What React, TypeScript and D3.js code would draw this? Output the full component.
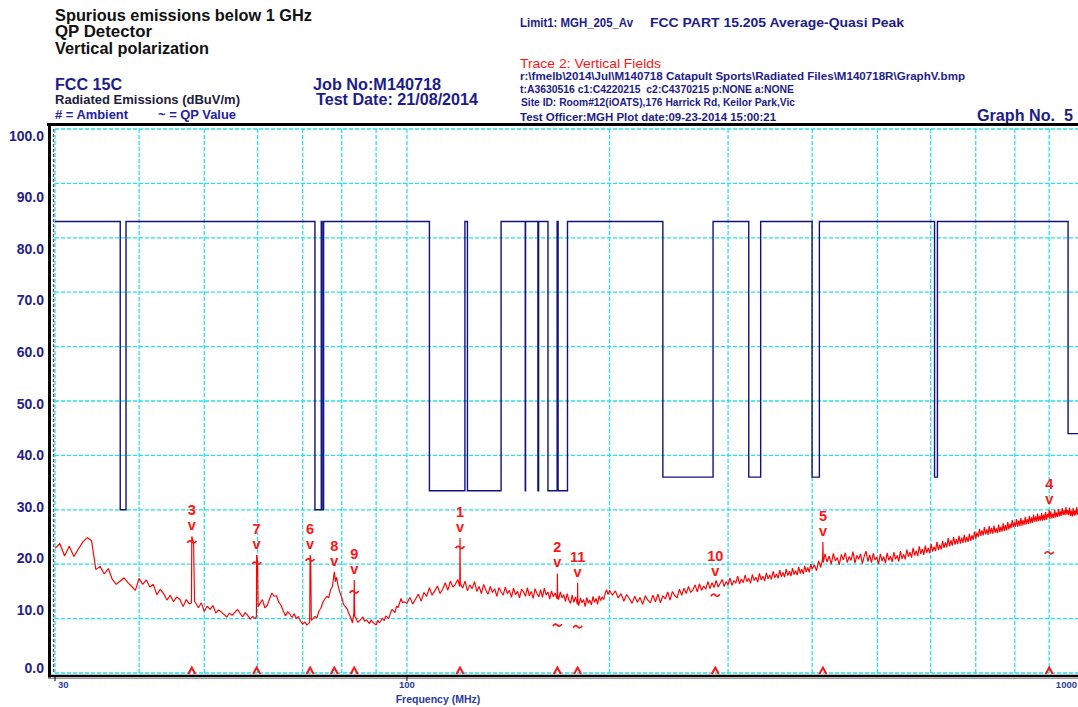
import * as d3 from "d3";

const FONT = "'Liberation Sans', Arial, Helvetica, sans-serif";
const NAVY = "#1c1c8a";
const RED = "#ff1414";
const CYAN = "#22e4f0";

// axes
const yGridDb = [0, 10, 20, 30, 40, 50, 60, 70, 80, 90, 100];
const yTickLabels = ["0.0", "10.0", "20.0", "30.0", "40.0", "50.0", "60.0", "70.0", "80.0", "90.0", "100.0"];
const xGridMHz = [30, 40, 50, 60, 70, 80, 90, 100, 200, 300, 400, 500, 600, 700, 800, 900, 1000];
const xTickMHz = [30, 100, 1000];
const xTickLabels = ["30", "100", "1000"];

// limit line: FCC 15.205 restricted bands
const openLimitDb = 83;
const bandStartMHz = [37.5, 73, 74.8, 108, 123, 149.9, 156.52475, 156.7, 162.0125, 167.72, 240, 322, 399.9, 608, 960];
const bandEndMHz = [38.25, 74.6, 75.2, 121.94, 138, 150.05, 156.52525, 156.9, 167.17, 173.2, 285, 335.4, 410, 614, 1240];
const bandLimitDb = [30, 30, 30, 33.5, 33.5, 33.5, 33.5, 33.5, 33.5, 33.5, 36, 36, 36, 36, 44];

// trace 2: vertical fields [MHz, dBuV/m]
const trace: [number, number][] = [
  [30, 22.9], [30.5, 23.8], [31, 21.5], [31.5, 23.3], [32, 21.4], [32.5, 22.8], [33, 24.1], [33.5, 24.9],
  [34, 24.3], [34.5, 19.0], [35, 19.6], [35.5, 18.2], [36, 19.2], [36.5, 17.2], [37, 16.3], [37.5, 16.9],
  [38, 17.5], [38.5, 16.6], [39, 15.9], [39.5, 15.2], [40, 17.4], [40.5, 16.3], [41, 17.1], [41.5, 15.8],
  [42, 16.3], [42.5, 14.4], [43, 15.4], [43.5, 14.6], [44, 13.4], [44.5, 14.3], [45, 13.1], [45.5, 14.0],
  [46, 13.5], [46.5, 12.2], [47, 13.5], [47.5, 12.7], [47.85, 12.9], [47.9, 25.1], [48.2, 24.0], [48.35, 13.2],
  [48.7, 12.6], [49, 12.0], [49.5, 12.9], [50, 11.3], [50.5, 12.3], [51, 11.7], [51.5, 12.4], [52, 11.0],
  [52.5, 11.6], [53, 11.2], [54, 10.3], [54.5, 11.0], [55, 10.6], [56, 11.7], [57, 10.3], [57.5, 11.1],
  [58, 10.6], [58.5, 9.9], [59, 10.4], [59.5, 10.0], [59.75, 10.3], [59.8, 21.7], [60.0, 20.4], [60.1, 12.2],
  [60.5, 12.8], [61, 13.5], [61.5, 12.0], [62, 12.4], [62.5, 13.6], [63, 14.7], [63.5, 14.1], [64, 14.2],
  [64.5, 13.0], [65, 12.5], [65.5, 11.4], [66, 10.5], [66.5, 11.3], [67, 10.8], [67.5, 10.2], [68, 10.9],
  [68.5, 10.0], [69, 10.4], [69.5, 9.5], [70, 9.0], [70.5, 9.4], [71, 8.8], [71.7, 9.3], [71.8, 21.7],
  [71.95, 21.0], [72.1, 9.7], [72.5, 10.0], [73, 10.4], [73.5, 10.1], [74, 11.4], [74.5, 11.9], [75, 13.0],
  [75.5, 13.6], [76, 14.1], [76.5, 13.8], [77, 15.3], [77.5, 15.9], [78, 18.6], [78.3, 16.8], [78.6, 17.6],
  [79, 16.1], [79.5, 14.8], [80, 13.9], [80.5, 12.6], [81, 12.2], [81.5, 11.8], [82, 10.9], [82.5, 10.2],
  [83, 9.2], [83.4, 11.0], [83.5, 17.1], [83.65, 10.4], [84, 10.1], [84.5, 9.3], [85, 9.6], [86, 10.3],
  [86.5, 9.5], [87, 9.8], [88, 9.1], [88.5, 9.8], [89, 9.3], [90, 8.8], [90.5, 9.7], [91, 9.2],
  [92, 10.1], [92.5, 9.6], [93, 10.5], [94, 10.0], [94.5, 11.0], [95, 11.7], [96, 11.1], [96.5, 12.3],
  [97, 12.0], [98, 13.7], [98.5, 12.9], [99, 13.1], [100, 12.8],
  [101, 13.9], [102, 12.7], [103, 13.6], [104, 14.5], [105, 13.2], [106, 14.8], [107, 14.1], [108, 15.7],
  [109, 14.3], [110, 15.1], [111, 16.0], [112, 14.6], [113, 15.4], [114, 16.6], [115, 15.2], [116, 16.9],
  [117, 15.8], [118, 16.3], [119, 17.2], [119.8, 15.9], [119.9, 24.8], [120.05, 16.4], [121, 15.6], [122, 16.9],
  [123, 15.1], [124, 16.2], [125, 15.5], [126, 16.8], [127, 15.0], [128, 15.9], [129, 14.6], [130, 16.3],
  [131, 15.2], [132, 14.5], [133, 15.9], [134, 14.8], [135, 15.5], [136, 14.1], [137, 15.7], [138, 14.9],
  [139, 14.3], [140, 15.8], [141, 14.6], [142, 15.2], [143, 13.9], [144, 15.6], [145, 14.4], [146, 15.0],
  [147, 13.8], [148, 15.4], [149, 14.9], [150, 14.1], [151, 15.7], [152, 14.2], [153, 15.0], [154, 13.7],
  [155, 15.5], [156, 14.6], [157, 14.0], [158, 15.3], [159, 13.9], [160, 15.6], [161, 14.3], [162, 14.9],
  [163, 13.6], [164, 15.1], [165, 14.0], [166, 14.7], [167.2, 13.6], [167.3, 18.3], [167.45, 14.6], [168, 13.5],
  [169, 14.9], [170, 13.8], [171, 14.4], [172, 13.1], [173, 14.6], [174, 13.4], [175, 12.8], [176, 14.3],
  [177, 13.0], [178, 14.0], [179.2, 12.6], [179.3, 16.6], [179.45, 13.2], [180, 12.4], [181, 13.8], [182, 12.9],
  [183, 13.5], [184, 12.2], [185, 13.9], [186, 12.8], [187, 13.4], [188, 12.5], [189, 14.1], [190, 13.0],
  [191, 13.7], [192, 12.6], [193, 14.2], [194, 13.3], [195, 14.0], [196, 13.5], [197, 14.6], [198, 15.3],
  [199, 14.4], [200, 15.2],
  [202, 14.3], [204, 15.1], [206, 13.8], [208, 14.6], [210, 13.2], [212, 14.4], [214, 13.7], [216, 12.8],
  [218, 14.1], [220, 13.0], [222, 13.9], [224, 12.6], [226, 14.2], [228, 13.4], [230, 12.9], [232, 14.3],
  [234, 13.1], [236, 14.5], [238, 12.9], [240, 14.2], [242, 13.6], [244, 14.9], [246, 13.4], [248, 15.0],
  [250, 14.2], [252, 13.8], [254, 15.4], [256, 14.3], [258, 15.6], [260, 14.6], [262, 15.9], [264, 14.8],
  [266, 15.3], [268, 16.2], [270, 14.9], [272, 16.4], [274, 15.2], [276, 16.0], [278, 15.4], [280, 16.8],
  [282, 15.5], [284, 16.6], [286, 15.7], [288, 17.0], [290, 15.8], [292, 16.5], [294, 17.2], [296, 15.9],
  [298, 16.8], [300, 16.2], [302, 17.5], [304, 16.1], [306, 17.0], [308, 16.5], [310, 17.8], [312, 16.4],
  [314, 17.3], [316, 16.6], [318, 18.0], [320, 16.8], [322, 17.4], [324, 16.5], [326, 18.1], [328, 17.0],
  [330, 17.6], [332, 16.7], [334, 18.3], [336, 17.1], [338, 17.8], [340, 16.9], [342, 18.4], [344, 17.3],
  [346, 18.0], [348, 17.2], [350, 18.7], [352, 17.5], [354, 18.2], [356, 17.4], [358, 18.9], [360, 17.7],
  [362, 18.5], [364, 17.6], [366, 19.1], [368, 17.9], [370, 18.7], [372, 17.8], [374, 19.3], [376, 18.1],
  [378, 18.8], [380, 18.0], [382, 19.5], [384, 18.3], [386, 19.1], [388, 18.2], [390, 19.7], [392, 18.6],
  [394, 19.4], [396, 18.5], [398, 20.0], [400, 19.1],
  [403, 19.9], [406, 18.8], [409, 20.6], [412, 19.4], [414.5, 21.0], [415, 24.1], [415.5, 20.3], [418, 21.9],
  [421, 20.4], [424, 21.5], [427, 20.0], [430, 22.0], [433, 20.6], [436, 21.2], [439, 19.9], [442, 21.8],
  [445, 20.8], [448, 22.1], [451, 20.3], [454, 21.4], [457, 20.7], [460, 22.3], [463, 20.2], [466, 21.6],
  [469, 20.9], [472, 21.9], [475, 20.1], [478, 21.5], [481, 22.4], [484, 20.5], [487, 21.7], [490, 20.3],
  [493, 22.0], [496, 20.8], [499, 21.3], [502, 20.0], [505, 21.9], [508, 20.6], [511, 21.4], [514, 20.2],
  [517, 22.1], [520, 20.7], [523, 21.5], [526, 20.4], [529, 22.2], [532, 20.9], [535, 21.6], [538, 20.5],
  [541, 22.4], [544, 21.0], [547, 21.8], [550, 20.9], [553, 22.7], [556, 21.4], [559, 22.2], [562, 21.2],
  [565, 23.0], [568, 21.6], [571, 22.5], [574, 21.5], [577, 23.3], [580, 21.9], [583, 22.8], [586, 21.7],
  [589, 23.4], [592, 22.1], [595, 23.0], [598, 22.0], [601, 23.7], [604, 22.3], [607, 23.2], [610, 22.4],
  [613, 24.1], [616, 22.6], [619, 23.6], [622, 22.7], [625, 24.3], [628, 23.0], [631, 24.0], [634, 23.1],
  [637, 24.8], [640, 23.3], [643, 24.4], [646, 23.4], [649, 25.0], [652, 23.6], [655, 24.6], [658, 23.7],
  [661, 25.2], [664, 23.8], [667, 24.9], [670, 23.9], [673, 25.4], [676, 24.0], [679, 25.0], [682, 24.1],
  [685, 25.6], [688, 24.3], [691, 25.3], [694, 24.5], [697, 26.0], [700, 24.7], [703, 25.8], [706, 25.0],
  [709, 26.5], [712, 25.2], [715, 26.2], [718, 25.3], [721, 26.8], [724, 25.5], [727, 26.4], [730, 25.4],
  [733, 27.0], [736, 25.6], [739, 26.7], [742, 25.6], [745, 27.1], [748, 25.8], [751, 26.6], [754, 25.7],
  [757, 27.3], [760, 25.9], [763, 26.9], [766, 26.0], [769, 27.5], [772, 26.1], [775, 27.2], [778, 26.2],
  [781, 27.8], [784, 26.4], [787, 27.4], [790, 26.6], [793, 28.1], [796, 26.8], [799, 27.7], [802, 26.9],
  [805, 28.3], [808, 26.9], [811, 28.0], [814, 27.0], [817, 28.5], [820, 27.1], [823, 28.1], [826, 27.2],
  [829, 28.7], [832, 27.3], [835, 28.3], [838, 27.4], [841, 28.9], [844, 27.5], [847, 28.6], [850, 27.6],
  [853, 29.1], [856, 27.8], [859, 28.8], [862, 27.8], [865, 29.3], [868, 27.9], [871, 28.9], [874, 28.0],
  [877, 29.4], [880, 28.0], [883, 29.1], [886, 28.1], [889, 29.6], [892, 28.2], [895, 29.2], [898, 28.6],
  [900, 30.0], [902, 28.3], [905, 29.7], [908, 28.4], [911, 29.3], [914, 28.5], [917, 30.0], [920, 28.6],
  [923, 29.5], [926, 28.7], [929, 30.2], [932, 28.8], [935, 29.7], [938, 28.9], [941, 30.3], [944, 29.0],
  [947, 29.9], [950, 29.0], [953, 30.5], [956, 29.1], [959, 30.0], [962, 29.0], [965, 30.4], [968, 28.9],
  [971, 29.8], [974, 28.8], [977, 30.3], [980, 28.9], [983, 29.9], [986, 29.0], [989, 30.5], [992, 29.1],
  [995, 30.1], [998, 29.2], [1000, 29.8],
];

// markers
const markerIds = ["3", "7", "6", "8", "9", "1", "2", "11", "10", "5", "4"];
const markerMHz = [47.9, 59.8, 71.8, 78.0, 83.5, 119.9, 167.3, 179.3, 287.2, 415, 900];
const markerPeakDb = [25.1, 21.7, 21.7, 18.6, 17.1, 24.8, 18.3, 16.6, 16.8, 24.1, 30.0];
const markerQpDb: (number | null)[] = [24.1, 20.2, 20.8, null, 14.9, 23.1, 8.8, 8.5, 14.3, null, 22.1];

export default function App() {
  const width = 1078;
  const height = 707;

  const x = d3.scaleLog().domain([30, 1000]).range([55, 1080]);
  const y = d3.scaleLinear().domain([0, 100]).range([673, 129]);
  // tick labels are not spaced exactly like the grid in the original
  const yLab = d3.scaleLinear().domain([0, 10, 90, 100]).range([668, 610, 197, 136]);

  const plotL = x(30);
  const plotR = x(1000);

  // limit step line
  const limitPts: [number, number][] = [[30, openLimitDb]];
  bandStartMHz.forEach((lo, i) => {
    const hi = Math.min(bandEndMHz[i], 1000);
    const lv = bandLimitDb[i];
    limitPts.push([lo, openLimitDb], [lo, lv], [hi, lv]);
    if (bandEndMHz[i] < 1000) limitPts.push([hi, openLimitDb]);
  });
  const line = d3
    .line<[number, number]>()
    .x((d) => x(d[0]))
    .y((d) => y(d[1]));

  const tilde = (cx: number, cy: number) =>
    `M${cx - 4.5},${cy + 1} Q${cx - 2.2},${cy - 2.5} ${cx},${cy} T${cx + 4.5},${cy - 1}`;

  return (
    <div style={{ position: "absolute", left: 0, top: 0 }}>
      <svg width={width} height={height} style={{ display: "block", background: "#fff" }} fontFamily={FONT}>
        {/* header left */}
        <g fontWeight="bold">
          <text x={55} y={20.5} fontSize={16.5} fill="#111" textLength={257} lengthAdjust="spacingAndGlyphs">
            Spurious emissions below 1 GHz
          </text>
          <text x={55} y={37} fontSize={16.5} fill="#111" textLength={97} lengthAdjust="spacingAndGlyphs">
            QP Detector
          </text>
          <text x={55} y={53.5} fontSize={16.5} fill="#111" textLength={154} lengthAdjust="spacingAndGlyphs">
            Vertical polarization
          </text>
          <text x={55} y={89.5} fontSize={16} fill={NAVY} textLength={67} lengthAdjust="spacingAndGlyphs">
            FCC 15C
          </text>
          <text x={55} y={103.5} fontSize={13} fill="#20203a" textLength={185} lengthAdjust="spacingAndGlyphs">
            Radiated Emissions (dBuV/m)
          </text>
          <text x={55} y={118.5} fontSize={13} fill="#2222a0" textLength={73} lengthAdjust="spacingAndGlyphs">
            # = Ambient
          </text>
          <text x={158} y={118.5} fontSize={13} fill="#2222a0" textLength={78} lengthAdjust="spacingAndGlyphs">
            ~ = QP Value
          </text>
          <text x={313} y={90} fontSize={16} fill={NAVY} textLength={128} lengthAdjust="spacingAndGlyphs">
            Job No:M140718
          </text>
          <text x={316} y={105} fontSize={16} fill={NAVY} textLength={162} lengthAdjust="spacingAndGlyphs">
            Test Date: 21/08/2014
          </text>
        </g>

        {/* header right */}
        <g fontWeight="bold" fill={NAVY}>
          <text x={520} y={27} fontSize={12.5} textLength={113} lengthAdjust="spacingAndGlyphs">
            Limit1: MGH_205_Av
          </text>
          <text x={650} y={27} fontSize={12.5} textLength={254} lengthAdjust="spacingAndGlyphs">
            FCC PART 15.205 Average-Quasi Peak
          </text>
          <text x={520} y={68} fontSize={13.5} fontWeight="normal" fill={RED} textLength={141} lengthAdjust="spacingAndGlyphs">
            Trace 2: Vertical Fields
          </text>
          <text x={520} y={80} fontSize={10.5} textLength={445} lengthAdjust="spacingAndGlyphs">
            {"r:\\fmelb\\2014\\Jul\\M140718 Catapult Sports\\Radiated Files\\M140718R\\GraphV.bmp"}
          </text>
          <text x={520} y={93} fontSize={10.5} textLength={274} lengthAdjust="spacingAndGlyphs" xmlSpace="preserve" style={{ whiteSpace: "pre" }}>
            {"t:A3630516 c1:C4220215  c2:C4370215 p:NONE a:NONE"}
          </text>
          <text x={521} y={106} fontSize={10.5} textLength={274} lengthAdjust="spacingAndGlyphs">
            Site ID: Room#12(iOATS),176 Harrick Rd, Keilor Park,Vic
          </text>
          <text x={520} y={121} fontSize={10.5} textLength={256} lengthAdjust="spacingAndGlyphs">
            Test Officer:MGH Plot date:09-23-2014 15:00:21
          </text>
          <text x={977} y={121} fontSize={16} textLength={96} lengthAdjust="spacingAndGlyphs" xmlSpace="preserve" style={{ whiteSpace: "pre" }}>
            {"Graph No.  5"}
          </text>
        </g>

        {/* grid */}
        <g stroke={CYAN} strokeWidth={1.3} strokeDasharray="4 2" fill="none">
          {yGridDb.map((v) => (
            <line key={"h" + v} x1={plotL} x2={plotR} y1={y(v)} y2={y(v)} />
          ))}
          {xGridMHz.map((f) => (
            <line key={"v" + f} x1={x(f)} x2={x(f)} y1={y(100)} y2={y(0)} />
          ))}
        </g>
        <line x1={plotL - 1.5} x2={plotL - 1.5} y1={y(100)} y2={y(0)} stroke="#555" strokeWidth={1.2} strokeDasharray="3 2" />

        {/* frame */}
        <g stroke="#000" fill="none">
          <line x1={47} x2={width} y1={124.5} y2={124.5} strokeWidth={3} />
          <line x1={49.5} x2={49.5} y1={123} y2={677.5} strokeWidth={3} />
          <line x1={48} x2={width} y1={676} y2={676} strokeWidth={2.5} />
          <line x1={48} x2={width} y1={678.5} y2={678.5} stroke="#999" strokeWidth={1.2} />
          {xTickMHz.map((f) => (
            <line key={"t" + f} x1={x(f)} x2={x(f)} y1={677} y2={681} strokeWidth={1} />
          ))}
        </g>

        {/* y tick labels */}
        <g fontSize={14} fontWeight="bold" fill="#22228a" textAnchor="end">
          {yGridDb.map((v, i) => (
            <text key={v} x={44} y={yLab(v)} dominantBaseline="central">
              {yTickLabels[i]}
            </text>
          ))}
        </g>

        {/* x tick labels */}
        <g fontSize={9.5} fontWeight="bold" fill="#2a3aa0">
          {xTickMHz.map((f, i) => (
            <text
              key={f}
              x={i === 0 ? x(f) + 3 : i === 2 ? width - 1 : x(f)}
              y={688}
              textAnchor={i === 0 ? "start" : i === 2 ? "end" : "middle"}
            >
              {xTickLabels[i]}
            </text>
          ))}
          <text x={438} y={703} fontSize={10.5} textAnchor="middle">
            Frequency (MHz)
          </text>
        </g>

        {/* limit line */}
        <path d={line(limitPts) ?? ""} fill="none" stroke="#12127e" strokeWidth={1.4} />

        {/* trace */}
        <path d={line(trace) ?? ""} fill="none" stroke="#ff0000" strokeWidth={1.15} strokeLinejoin="bevel" />

        {/* markers */}
        <g fill={RED} fontWeight="bold" textAnchor="middle">
          {markerIds.map((id, i) => {
            const cx = x(markerMHz[i]);
            const py = y(markerPeakDb[i]);
            const qp = markerQpDb[i];
            return (
              <g key={id}>
                <text x={cx} y={py - 21} fontSize={14.5}>
                  {id}
                </text>
                <text x={cx} y={py - 6} fontSize={14.5}>
                  v
                </text>
                {qp !== null && (
                  <path d={tilde(cx, y(qp))} fill="none" stroke={RED} strokeWidth={1.7} />
                )}
                <path
                  d={`M${cx - 3.5},${y(0) + 1} L${cx},${y(0) - 5.5} L${cx + 3.5},${y(0) + 1}`}
                  fill="none"
                  stroke={RED}
                  strokeWidth={2}
                />
              </g>
            );
          })}
        </g>
      </svg>
    </div>
  );
}
